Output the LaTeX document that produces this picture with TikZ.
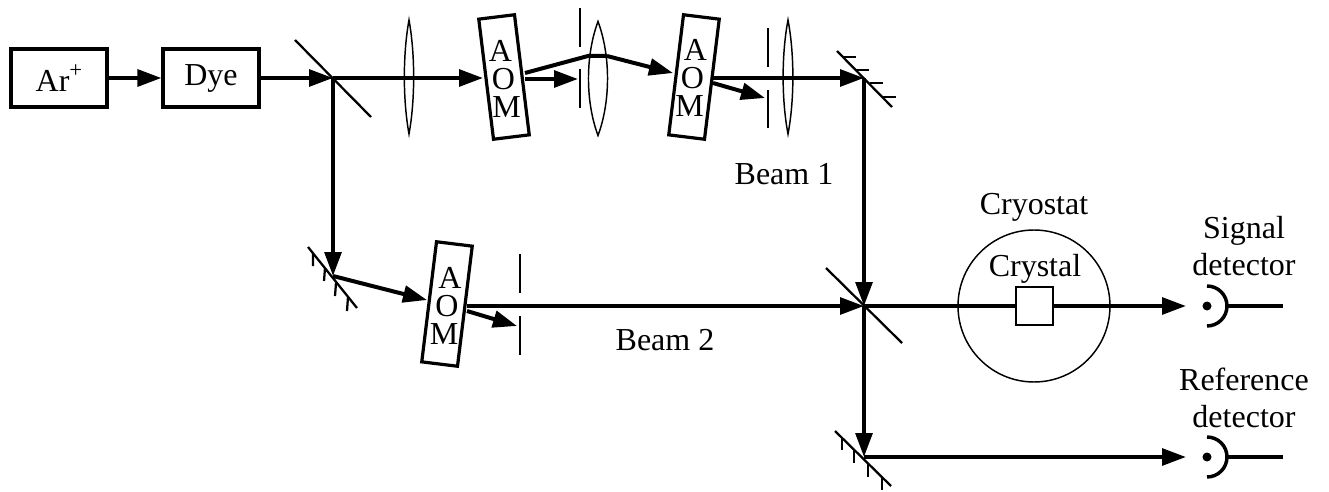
\documentclass[tikz,border=0pt]{standalone}
\usepackage{fontspec}
\setmainfont{Liberation Serif}
\usetikzlibrary{arrows.meta}
\tikzset{x=0.75pt,y=-0.75pt,
 lbl/.style={font=\fontsize{24}{27.75}\selectfont,inner sep=0pt,align=center},
 aomlbl/.style={font=\fontsize{24}{20.7}\selectfont,inner sep=0pt,align=center},
 box/.style={draw,line width=2.8pt,minimum width=71.5pt,minimum height=43pt,inner sep=0pt,font=\fontsize{24}{28}\selectfont},
 beam/.style={line width=3pt},
 arr/.style={line width=3pt,-{Triangle[length=18pt,width=12.5pt]}},
 mirrorline/.style={line width=1.7pt},
 opt/.style={line width=1.1pt},
 aom/.style={draw,line width=2.4pt,minimum width=27pt,minimum height=90.75pt,inner sep=0pt},
 crystalbox/.style={draw,fill=white,line width=1.5pt,minimum width=28pt,minimum height=28pt,inner sep=0pt},
 cryo/.style={draw,circle,line width=1.1pt,minimum size=114pt,inner sep=0pt},
 det/.style={line width=2.6pt},
}
% lens: x, y, half height, control offset
\newcommand{\drawlens}[4]{\draw[opt] (#1,#2-#3) .. controls (#1-#4,#2-#3*0.4) and (#1-#4,#2+#3*0.4) .. (#1,#2+#3) .. controls (#1+#4,#2+#3*0.4) and (#1+#4,#2-#3*0.4) .. (#1,#2-#3) -- cycle;}
\begin{document}
\begin{tikzpicture}
\useasboundingbox (0,0) rectangle (1329,492);
% junction points
\coordinate (bs1) at (333,78);
\coordinate (m1) at (333,276);
\coordinate (m2) at (864,78);
\coordinate (bs2) at (864,306);
\coordinate (m3) at (864,457);
% lenses
\drawlens{409}{77}{57}{6.2}
\drawlens{598}{78.5}{57}{12.7}
\drawlens{788}{77}{57}{6.5}
% boxes
\node[box] (ar) at (59,78) {};
\node[lbl] (artext) at (59,78) {Ar\raisebox{10pt}{\fontsize{17}{17}\selectfont +}};
\node[box] (dye) at (211,78) {Dye};
% AOMs
\node[aom,rotate=7] (a1) at (504,77) {};
\node[aom,rotate=-7] (a2) at (694,77) {};
\node[aom,rotate=-7] (a3) at (447,304) {};
\node[aomlbl] (t1) at (503.5,79) {A\hspace*{4.5pt}\\O\\\hspace*{4.5pt}M};
\node[aomlbl] (t2) at (692.5,78) {\hspace*{4.5pt}A\\O\\M\hspace*{4.5pt}};
\node[aomlbl] (t3) at (447,306) {\hspace*{4.5pt}A\\O\\M\hspace*{4.5pt}};
% beam anchors
\coordinate (a1up) at (525,73);
\coordinate (a1low) at (525,79);
\coordinate (b1) at (588,56);
\coordinate (b2) at (607,56);
\coordinate (a2in) at (673,73);
\coordinate (a1in) at (483,78);
\coordinate (ap1tip) at (578,79);
\coordinate (a2st) at (713,78);
\coordinate (a2low) at (713,83);
\coordinate (ap2tip) at (765,98);
\coordinate (a3in) at (427,300);
\coordinate (a3st) at (467,306);
\coordinate (a3low) at (467,311);
\coordinate (ap3tip) at (517,326);
\coordinate (sigtip) at (1186,306);
\coordinate (reftip) at (1186,457);
% beams
\draw[arr] (ar.east) -- (dye.west);
\draw[arr] (dye.east) -- (bs1);
\draw[arr] (bs1) -- (a1in);
\draw[arr] (bs1) -- (m1);
\draw[beam] (a1up) -- (b1) -- (b2);
\draw[arr] (b2) -- (a2in);
\draw[arr] (a1low) -- (ap1tip);
\draw[arr] (a2st) -- (m2);
\draw[arr] (a2low) -- (ap2tip);
\draw[arr] (m2) -- (bs2);
\draw[arr] (m1) -- (a3in);
\draw[arr] (a3st) -- (bs2);
\draw[arr] (a3low) -- (ap3tip);
\draw[arr] (bs2) -- (m3);
\draw[arr] (bs2) -- (sigtip);
\draw[arr] (m3) -- (reftip);
% beam splitters and mirrors
\draw[mirrorline] (295,40) -- (371,117);
\draw[mirrorline] (826,268) -- (902,343);
\draw[mirrorline] (308,247) -- (357,308);
\draw[mirrorline] (313,253) -- (313,266) (325,268) -- (324,281) (336,283) -- (335,296) (348,297) -- (347,311);
\draw[mirrorline] (837,51) -- (892,107);
\draw[mirrorline] (843,57) -- (856,57) (856,70) -- (869,70) (870,83) -- (883,83) (883,97) -- (896,97);
\draw[mirrorline] (835,431) -- (891,486);
\draw[mirrorline] (842,438) -- (842,450) (854,450) -- (854,463) (868,464) -- (868,477) (882,478) -- (882,490);
% apertures
\draw[mirrorline] (580,8) -- (580,47) (580,69) -- (580,108);
\draw[mirrorline] (768,28) -- (768,67) (768,90) -- (768,128);
\draw[mirrorline] (520,254) -- (520,293) (520,316) -- (520,355);
% cryostat
\node[cryo] (cryostat) at (1034,306) {};
\node[crystalbox] (crystal) at (1034.5,306) {};
\node[lbl] (cryolbl) at (1034,207) {Cryostat};
\node[lbl] (crystlbl) at (1035,269) {Crystal};
% detectors
\foreach \n/\y in {s/306,t/457}{
 \fill (1207,\y) circle [radius=4.5];
 \draw[det] (1207,\y-20) arc [start angle=90,end angle=-90,x radius=20,y radius=-20];
 \coordinate (\n a) at (1226,\y);
 \coordinate (\n b) at (1283,\y);
 \draw[beam] (\n a) -- (\n b);
}
% labels
\node[lbl] (beam1) at (784,174) {Beam 1};
\node[lbl] (beam2) at (665,340) {Beam 2};
\node[lbl] (sig) at (1244,246.5) {Signal\\detector};
\node[lbl] (ref) at (1244,398) {Reference\\detector};
\end{tikzpicture}
\end{document}
